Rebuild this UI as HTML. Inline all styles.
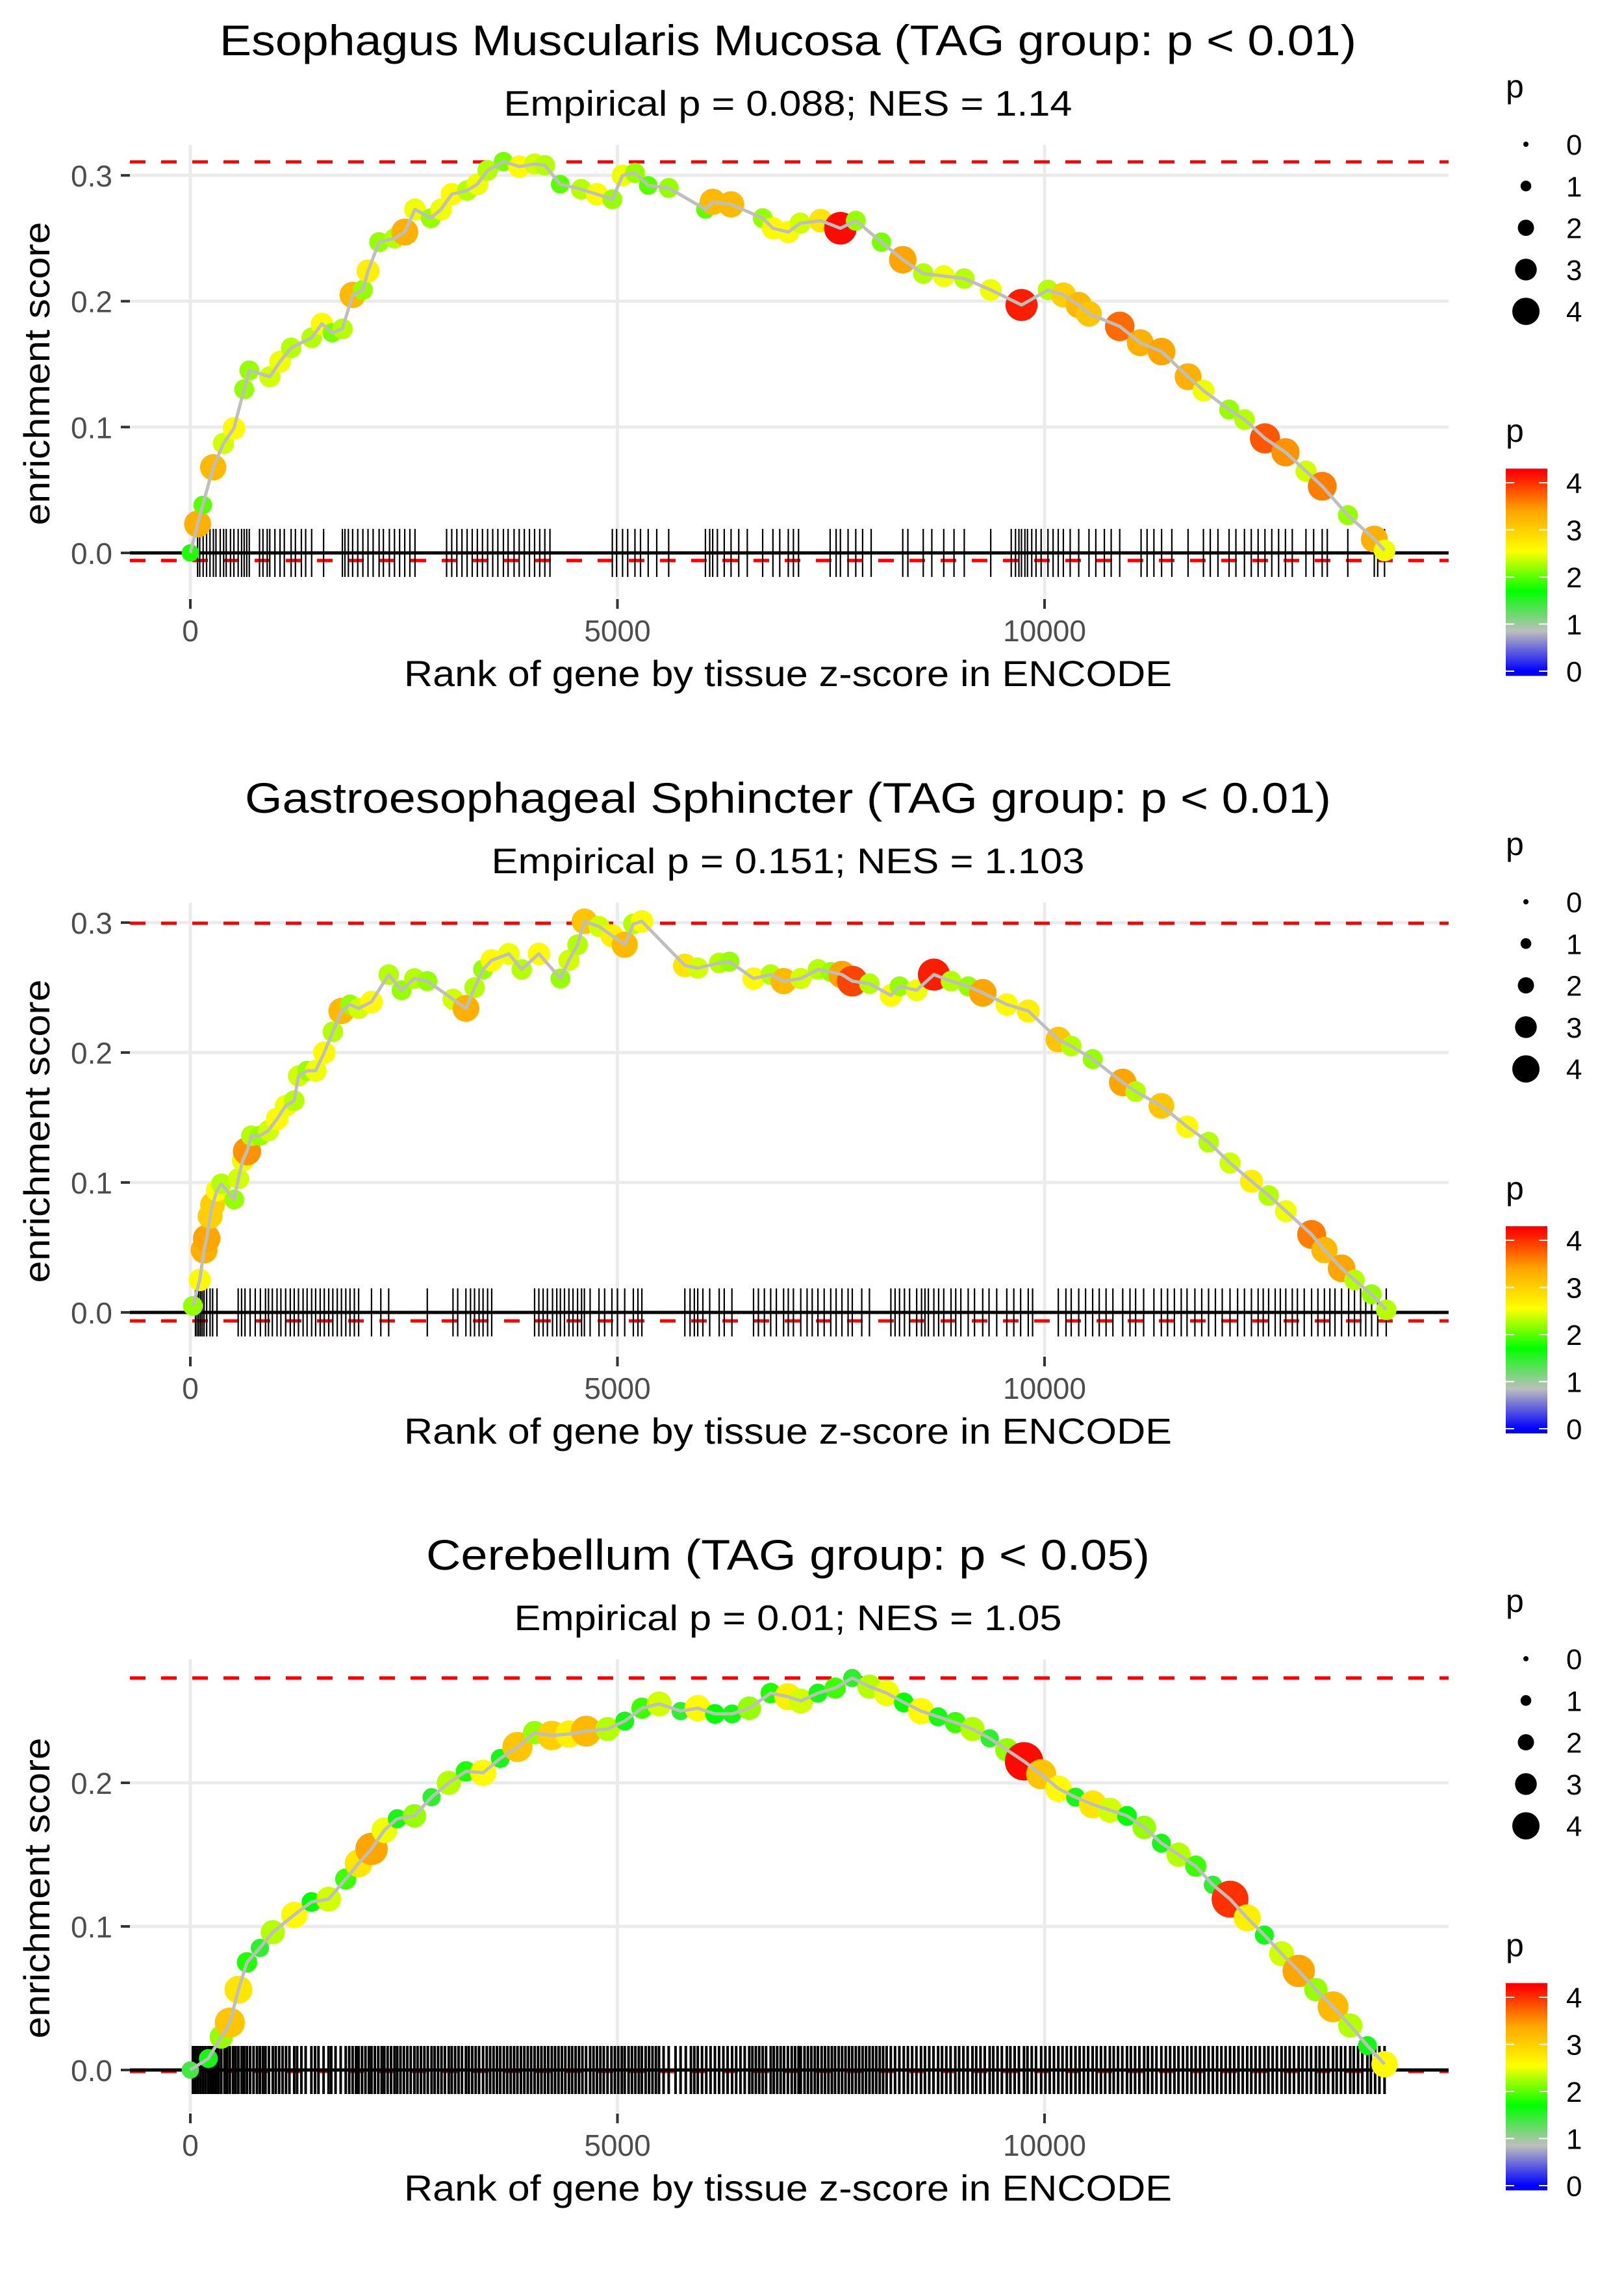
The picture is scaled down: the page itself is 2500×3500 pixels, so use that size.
<!DOCTYPE html>
<html><head><meta charset="utf-8"><title>Enrichment plots</title>
<style>html,body{margin:0;padding:0;background:#fff}svg{display:block}text{font-family:"Liberation Sans",Arial,sans-serif}</style>
</head><body>
<svg id="fig" xmlns="http://www.w3.org/2000/svg" width="2500" height="3500" viewBox="0 0 2500 3500">
<defs>
<linearGradient id="pgrad" x1="0" y1="1" x2="0" y2="0"></linearGradient>
</defs>
<rect width="2500" height="3500" fill="#fff"/>
</svg>
<script>
// ---------- data ----------
const titles = ["Esophagus Muscularis Mucosa (TAG group: p < 0.01)","Gastroesophageal Sphincter (TAG group: p < 0.01)","Cerebellum (TAG group: p < 0.05)"];
const subtitles = ["Empirical p = 0.088; NES = 1.14","Empirical p = 0.151; NES = 1.103","Empirical p = 0.01; NES = 1.05"];
const maxES = [0.3107, 0.2995, 0.273];
const minES = [-0.006, -0.0065, -0.001];
const yTicks1 = [0, 0.1, 0.2, 0.3];
const yTicks2 = [0, 0.1, 0.2, 0.3];
const yTicks3 = [0, 0.1, 0.2];
const xTicks = [0, 5000, 10000];
const xTickLabels = ["0", "5000", "10000"];
const sizeLegendValues = [0, 1, 2, 3, 4];
const colorLegendValues = [0, 1, 2, 3, 4];

const rank1 = [0,85,145,267,388,510,630,690,930,1050,1180,1420,1540,1660,1780,1900,2020,2080,2210,2390,2510,2630,2815,2935,3060,3240,3360,3480,3665,3850,4030,4150,4330,4575,4760,4940,5060,5205,5360,5600,6030,6115,6330,6700,6820,7000,7140,7380,7610,7790,8090,8340,8580,8820,9060,9370,9730,10040,10220,10400,10520,10880,11120,11370,11680,11860,12160,12340,12580,12820,13060,13250,13550,13860,13980];
const es1 = [0,0.023,0.038,0.068,0.087,0.099,0.13,0.145,0.14,0.152,0.163,0.171,0.182,0.175,0.178,0.205,0.209,0.224,0.247,0.25,0.255,0.273,0.266,0.273,0.285,0.288,0.293,0.304,0.311,0.307,0.309,0.308,0.293,0.289,0.285,0.281,0.3,0.302,0.292,0.29,0.273,0.279,0.277,0.266,0.258,0.255,0.262,0.264,0.258,0.264,0.247,0.233,0.222,0.22,0.218,0.209,0.197,0.209,0.205,0.197,0.19,0.18,0.167,0.16,0.14,0.129,0.114,0.106,0.091,0.08,0.065,0.053,0.03,0.011,0.002];
const p1 = [1.8,3.3,2,3.2,2.4,2.6,2.2,2.2,2.4,2.5,2.3,2.3,2.6,2.1,2.3,3.2,2.2,2.7,2.2,2.3,3.3,2.5,2.2,2.5,2.6,2.3,2.5,2.3,2.1,2.6,2.4,2.3,2,2.3,2.6,2.2,2.5,2.2,2,2.2,2,3.2,3.2,2.2,2.6,2.6,2.4,2.8,4.2,2.2,2.1,3.4,2.3,2.5,2.3,2.5,4.1,2.3,3,3.2,3.1,3.7,3.3,3.4,3.3,2.5,2.2,2.3,3.8,3.5,2.4,3.6,2.2,3.3,2.5];
const rug1 = [85,110,150,190,230,270,300,350,390,420,470,510,560,600,630,660,690,810,850,900,930,990,1050,1100,1180,1230,1300,1350,1420,1560,1780,1810,1850,1900,1960,2020,2080,2140,2210,2260,2330,2390,2450,2510,2570,2630,3000,3060,3120,3180,3240,3300,3360,3420,3480,3540,3600,3665,3720,3790,3850,3910,3970,4030,4090,4150,4210,4940,4990,5060,5120,5205,5270,5360,5460,5600,6030,6080,6115,6170,6250,6330,6420,6520,6700,6820,6900,7000,7060,7120,7490,7560,7610,7700,7790,7870,7970,8340,8400,8580,8680,8820,8940,9060,9370,9610,9660,9700,9730,9770,9800,9850,9900,9960,10040,10100,10160,10220,10300,10400,10520,10600,10700,10780,10880,11130,11200,11280,11370,11490,11680,11860,11940,12030,12160,12240,12340,12420,12500,12580,12660,12740,12820,12900,13060,13150,13250,13310,13550,13860,13900,13980];

const rank2 = [30,110,161,191,231,261,312,362,513,563,613,663,714,814,915,1015,1116,1216,1266,1367,1467,1568,1668,1769,1869,1970,2121,2322,2472,2623,2774,3075,3226,3327,3427,3528,3729,3879,4080,4332,4432,4533,4613,4784,4935,5085,5186,5286,5789,5940,6191,6312,6593,6794,6945,7146,7347,7497,7628,7749,7950,8201,8302,8503,8704,8905,9106,9276,9558,9809,10161,10312,10563,10915,11066,11367,11668,11920,12171,12422,12623,12824,13126,13276,13477,13628,13829,14000];
const es2 = [0.005,0.025,0.048,0.057,0.074,0.083,0.094,0.099,0.087,0.103,0.117,0.124,0.136,0.136,0.14,0.149,0.159,0.163,0.182,0.186,0.186,0.2,0.216,0.232,0.237,0.234,0.239,0.26,0.248,0.257,0.255,0.241,0.234,0.25,0.264,0.271,0.276,0.264,0.276,0.257,0.271,0.283,0.301,0.297,0.29,0.283,0.299,0.301,0.267,0.265,0.269,0.27,0.257,0.26,0.255,0.257,0.264,0.262,0.26,0.255,0.253,0.244,0.251,0.248,0.26,0.255,0.251,0.246,0.237,0.232,0.21,0.205,0.195,0.177,0.17,0.159,0.143,0.131,0.115,0.101,0.09,0.078,0.06,0.048,0.034,0.025,0.014,0.002];
const p2 = [2.2,2.6,3.3,3.4,3,3,2.6,2.3,2.2,2.4,2.5,3.5,2.3,2.2,2.4,2.6,2.5,2.3,2.4,2.2,2.5,2.6,2.3,3.2,2.2,2.4,2.6,2.3,2.2,2.3,2.2,2.4,3.3,2.3,2.2,2.6,2.5,2.3,2.6,2.2,2.4,2.3,3.1,2.4,2.7,3.2,2.3,2.6,2.8,2.4,2.3,2.2,2.6,2.3,3.2,2.4,2.3,2.2,3.4,3.9,2.3,2.6,2.2,2.5,4.1,2.3,2.2,3.4,2.6,2.7,3.1,2.3,2.2,3.4,2.3,3.1,2.6,2.3,2.4,2.7,2.3,2.5,3.6,3.2,3.4,2.3,2.2,2.3];
const rug2 = [60,80,100,120,140,161,191,231,261,312,560,600,640,700,760,820,880,915,960,1015,1060,1116,1170,1216,1266,1320,1367,1420,1467,1520,1568,1620,1668,1720,1769,1820,1869,1920,1970,2121,2230,2322,2774,3075,3130,3226,3280,3327,3380,3427,3480,3528,4030,4080,4130,4180,4240,4290,4332,4380,4432,4480,4533,4580,4613,4680,4784,4850,4935,5000,5085,5186,5240,5286,5789,5850,5900,5940,6000,6080,6191,6250,6340,6593,6650,6720,6794,6860,6945,7000,7060,7146,7220,7280,7347,7420,7497,7560,7628,7700,7749,7860,7950,8201,8250,8302,8360,8420,8503,8560,8600,8640,8704,8760,8820,8905,8960,9020,9106,9180,9276,9350,9440,9558,9640,9720,9809,9860,10161,10250,10312,10400,10480,10563,10640,10720,10800,10915,11000,11066,11160,11280,11367,11440,11520,11600,11668,11760,11840,11920,12000,12080,12171,12260,12340,12422,12500,12560,12623,12700,12760,12824,12900,12960,13040,13126,13200,13276,13340,13400,13477,13560,13628,13700,13760,13829,13900,14000];

const rank3 = [0,211,362,462,563,663,814,965,1216,1417,1618,1819,1970,2121,2271,2422,2623,2824,3025,3226,3427,3628,3829,4030,4231,4432,4633,4884,5085,5286,5487,5739,5940,6141,6342,6543,6794,6995,7146,7347,7548,7749,7950,8151,8352,8553,8754,8955,9156,9357,9558,9759,9960,10161,10362,10563,10764,10965,11166,11367,11568,11769,11970,12171,12372,12573,12774,12975,13176,13377,13578,13779,13980];
const es3 = [0,0.008,0.023,0.033,0.056,0.075,0.085,0.096,0.108,0.117,0.119,0.133,0.144,0.154,0.167,0.175,0.177,0.19,0.2,0.208,0.207,0.217,0.225,0.235,0.233,0.234,0.236,0.2375,0.243,0.252,0.255,0.25,0.252,0.248,0.248,0.252,0.2625,0.26,0.257,0.2625,0.266,0.273,0.267,0.2625,0.256,0.25,0.246,0.242,0.2375,0.231,0.223,0.215,0.206,0.196,0.19,0.185,0.181,0.177,0.169,0.158,0.15,0.142,0.129,0.119,0.106,0.094,0.081,0.069,0.056,0.044,0.031,0.017,0.004];
const p3 = [1.4,1.6,2.2,3.1,2.8,1.8,1.5,2.3,2.6,1.7,2.4,1.9,2.8,3.4,2.5,1.6,2.2,1.5,2.3,1.8,2.6,1.6,3.1,2.2,3,2.7,3.2,2.3,1.6,1.9,2.4,1.5,2.6,1.7,1.6,2.2,1.8,2.7,2.4,1.6,1.9,1.5,2.3,2.5,1.7,2.6,1.6,1.9,2.3,1.5,2.2,4.2,3.1,2.6,1.6,2.8,2.4,1.7,2.2,1.6,2.3,1.9,1.5,4.0,2.7,1.6,2.4,3.4,2.2,3.2,2.3,1.6,2.6];
const rug3 = [30,60,90,120,150,180,211,240,270,300,330,362,400,430,462,500,530,563,600,630,663,700,740,780,814,850,880,920,965,1000,1040,1080,1120,1160,1216,1250,1300,1350,1417,1460,1500,1560,1618,1650,1700,1760,1819,1860,1900,1940,1970,2010,2050,2090,2121,2160,2200,2240,2271,2310,2350,2390,2422,2460,2500,2540,2580,2623,2660,2700,2740,2780,2824,2860,2900,2940,2980,3025,3060,3100,3140,3180,3226,3260,3300,3340,3380,3427,3470,3510,3550,3590,3628,3670,3710,3750,3790,3829,3870,3910,3950,3990,4030,4070,4110,4150,4190,4231,4270,4310,4350,4390,4432,4470,4510,4550,4590,4633,4680,4720,4760,4800,4840,4884,4930,4970,5010,5050,5085,5130,5170,5210,5250,5286,5330,5370,5410,5450,5487,5540,5600,5680,5739,5800,5860,5900,5940,5990,6040,6090,6141,6190,6240,6290,6342,6390,6440,6490,6543,6580,6620,6660,6700,6740,6794,6830,6870,6910,6950,6995,7040,7080,7120,7146,7190,7230,7270,7310,7347,7390,7430,7470,7510,7548,7590,7630,7670,7710,7749,7790,7830,7870,7910,7950,7990,8030,8070,8110,8151,8200,8250,8300,8352,8400,8450,8500,8553,8600,8650,8700,8754,8800,8850,8900,8955,9000,9050,9100,9156,9200,9250,9300,9357,9400,9450,9500,9558,9600,9650,9700,9759,9800,9850,9900,9960,10010,10060,10110,10161,10210,10260,10310,10362,10410,10460,10510,10563,10610,10660,10710,10764,10810,10860,10910,10965,11010,11060,11110,11166,11210,11260,11310,11367,11420,11470,11520,11568,11620,11670,11720,11769,11820,11870,11920,11970,12020,12070,12120,12171,12220,12270,12320,12372,12420,12470,12520,12573,12620,12670,12720,12774,12820,12870,12920,12975,13020,13070,13120,13176,13220,13270,13320,13377,13420,13470,13520,13578,13620,13670,13720,13779,13820,13870,13920,13980];

// ---------- layout (not data) ----------
const panels = [
  {top:223, y0:851, k:1937, ticks:yTicks1, rank:rank1, es:es1, p:p1, rug:rug1, tl:1750, sl:875, yl:467, rmul:1.15, rw:2.2},
  {top:1389, y0:2020, k:2000, ticks:yTicks2, rank:rank2, es:es2, p:p2, rug:rug2, tl:1672, sl:913, yl:467, rmul:1.15, rw:2.2},
  {top:2554, y0:3186, k:2210, ticks:yTicks3, rank:rank3, es:es3, p:p3, rug:rug3, tl:1114, sl:843, yl:463, rmul:1.35, rw:4}
];
const X0 = 293, XK = 0.1315, PL = 200, PR = 2230, PH = 697, CX = 1213;
const NS = "http://www.w3.org/2000/svg";
const svg = document.getElementById('fig');
function el(tag, attrs, parent, txt){
  const e = document.createElementNS(NS, tag);
  for (const a in attrs) e.setAttribute(a, attrs[a]);
  if (txt !== undefined) e.textContent = txt;
  (parent || svg).appendChild(e);
  return e;
}
const cStops = [[0,[0,0,255]],[0.85,[190,190,190]],[1.7,[0,255,0]],[2.55,[255,255,0]],[3.4,[255,165,0]],[4.25,[255,0,0]]];
function pColor(v){
  if (v <= cStops[0][0]) return 'rgb(0,0,255)';
  for (let i=1;i<cStops.length;i++){
    if (v <= cStops[i][0]){
      const a=cStops[i-1], b=cStops[i], t=(v-a[0])/(b[0]-a[0]);
      const c=a[1].map((x,j)=>Math.round(x+(b[1][j]-x)*t));
      return 'rgb('+c.join(',')+')';
    }
  }
  return 'rgb(255,0,0)';
}
function pRadius(v){ return 4 + 4.25*v; }

const grad = document.getElementById('pgrad');
for (const s of cStops){
  const st = document.createElementNS(NS,'stop');
  st.setAttribute('offset', ((s[0]+0.1)/4.4).toFixed(4));
  st.setAttribute('stop-color', pColor(s[0]));
  grad.appendChild(st);
}

panels.forEach((P, i) => {
  const g = el('g', {});
  
  
  const xs = r => X0 + r*XK;
  const ys = v => P.y0 - v*P.k;
  const T = P.top;

  const t = el('text', {x:CX, y:T-138, 'font-size':66, 'text-anchor':'middle', fill:'#000', textLength:P.tl, lengthAdjust:'spacingAndGlyphs'}, g, titles[i]);
  
  
  const st = el('text', {x:CX, y:T-45, 'font-size':55, 'text-anchor':'middle', fill:'#000', textLength:P.sl, lengthAdjust:'spacingAndGlyphs'}, g, subtitles[i]);
  
  

  for (const v of P.ticks){
    const gl = el('line', {x1:PL, x2:PR, y1:ys(v), y2:ys(v), stroke:'#ebebeb', 'stroke-width':5}, g);
    
    
    const tk = el('line', {x1:186, x2:200, y1:ys(v), y2:ys(v), stroke:'#333', 'stroke-width':4}, g);
    
    
    const tl = el('text', {x:173, y:ys(v)+17, 'font-size':46, 'text-anchor':'end', fill:'#4d4d4d'}, g, v.toFixed(1));
    
    
  }
  xTicks.forEach((r, j) => {
    const gl = el('line', {x1:xs(r), x2:xs(r), y1:T, y2:T+PH, stroke:'#ebebeb', 'stroke-width':5}, g);
    
    
    const tk = el('line', {x1:xs(r), x2:xs(r), y1:T+699, y2:T+714, stroke:'#333', 'stroke-width':4}, g);
    
    
    const tl = el('text', {x:xs(r), y:T+764, 'font-size':46, 'text-anchor':'middle', fill:'#4d4d4d'}, g, xTickLabels[j]);
    
    
  });

  const dm = el('line', {x1:PL, x2:PR, y1:ys(maxES[i]), y2:ys(maxES[i]), stroke:'#ff0000', 'stroke-width':5, 'stroke-dasharray':'24 24'}, g);
  
  
  const dn = el('line', {x1:PL, x2:PR, y1:ys(minES[i]), y2:ys(minES[i]), stroke:'#ff0000', 'stroke-width':5, 'stroke-dasharray':'24 24'}, g);
  
  
  const zl = el('line', {x1:PL, x2:PR, y1:ys(0), y2:ys(0), stroke:'#000', 'stroke-width':5}, g);
  
  

  const rg = el('g', {stroke:'#000', 'stroke-width':P.rw}, g);
  
  
  for (const r of P.rug){
    const ln = el('line', {x1:xs(r), x2:xs(r), y1:ys(0)-37, y2:ys(0)+37}, rg);
    
    
  }

  const pg = el('g', {}, g);
  
  
  P.rank.forEach((r, j) => {
    const c = el('circle', {cx:xs(r), cy:ys(P.es[j]), r:pRadius(P.p[j])*P.rmul, fill:pColor(P.p[j])}, pg);
    
    
  });
  const pts = P.rank.map((r, j) => xs(r).toFixed(1) + ',' + ys(P.es[j]).toFixed(1)).join(' ');
  const pl = el('polyline', {points:pts, fill:'none', stroke:'#bebebe', 'stroke-width':5, 'stroke-linejoin':'round'}, g);
  
  

  const xt = el('text', {x:CX, y:T+833, 'font-size':56, 'text-anchor':'middle', fill:'#000', textLength:1182, lengthAdjust:'spacingAndGlyphs'}, g, 'Rank of gene by tissue z-score in ENCODE');
  
  
  const yc = T + 352;
  const yt = el('text', {x:0, y:0, 'font-size':56, 'text-anchor':'middle', fill:'#000', transform:'translate(76,'+yc+') rotate(-90)', textLength:P.yl, lengthAdjust:'spacingAndGlyphs'}, g, 'enrichment score');
  
  

  const off = T - 223;
  const sl = el('g', {}, g);
  
  
  const sTitle = el('text', {x:2318, y:off+150, 'font-size':50, fill:'#000'}, sl, 'p');
  
  
  sizeLegendValues.forEach((v, j) => {
    const cy = off + 222 + j*64.3;
    const c = el('circle', {cx:2349, cy:cy, r:pRadius(v), fill:'#000'}, sl);
    
    
    const tx = el('text', {x:2411, y:cy+16, 'font-size':44, fill:'#000'}, sl, String(v));
    
    
  });

  const cl = el('g', {}, g);
  
  
  const cTitle = el('text', {x:2318, y:off+680, 'font-size':50, fill:'#000'}, cl, 'p');
  
  
  const cy = v => off + 1033 - 72.5*v;
  const bar = el('rect', {x:2318, y:cy(4.3), width:64, height:72.5*4.4, fill:'url(#pgrad)'}, cl);
  
  
  colorLegendValues.forEach(v => {
    el('line', {x1:2318, x2:2331, y1:cy(v), y2:cy(v), stroke:'#fff', 'stroke-width':2}, cl);
    el('line', {x1:2369, x2:2382, y1:cy(v), y2:cy(v), stroke:'#fff', 'stroke-width':2}, cl);
    const tx = el('text', {x:2411, y:cy(v)+16, 'font-size':44, fill:'#000'}, cl, String(v));
    
    
  });
});
</script>
</body></html>
